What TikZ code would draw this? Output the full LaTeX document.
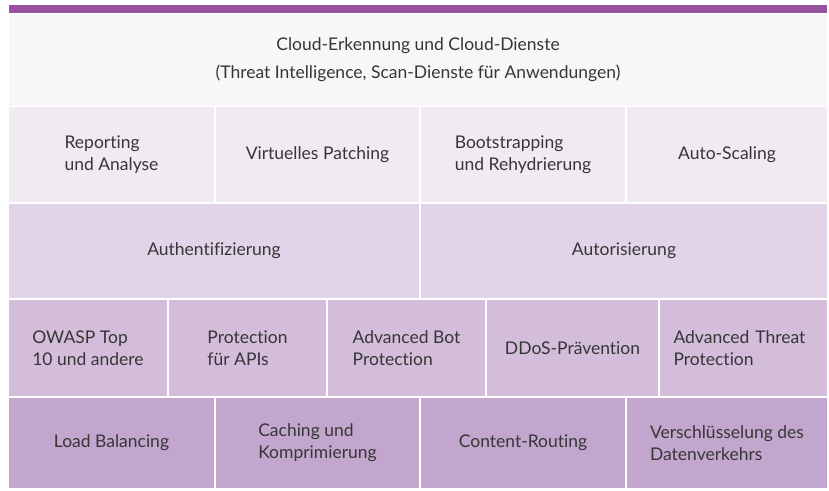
\documentclass[tikz,border=0pt]{standalone}
\usepackage{fontspec}
\setmainfont[Ligatures=NoCommon]{Lato}
\usepackage{tikz}
\definecolor{wbar}{HTML}{9852A1}
\definecolor{wrowa}{HTML}{F7F7FA}
\definecolor{wrowb}{HTML}{F1EAF3}
\definecolor{wrowc}{HTML}{E1D4E8}
\definecolor{wrowd}{HTML}{D3BDDB}
\definecolor{wrowe}{HTML}{C3A6CD}
\definecolor{wtext}{HTML}{363636}

\begin{document}
\begin{tikzpicture}[x=1pt,y=-1pt,
  cell/.style={inner sep=0pt,align=left,text=wtext,font=\fontsize{17.5}{22}\selectfont},
  rowa/.style={cell,fill=wrowa,minimum height=92pt},
  rowb/.style={cell,fill=wrowb,minimum height=95pt},
  rowc/.style={cell,fill=wrowc,minimum height=94pt},
  rowd/.style={cell,fill=wrowd,minimum height=96pt},
  rowe/.style={cell,fill=wrowe,minimum height=90pt}]
\useasboundingbox[fill=white] (0,0) rectangle (829,490);
% top bar and cloud row
\node[fill=wbar,inner sep=0pt,minimum width=818pt,minimum height=8pt] (bar) at (418,9) {};
\node[rowa,minimum width=818pt,align=center] (cloud) at (418,59.5)
  {Cloud-Erkennung und Cloud-Dienste\\[6pt](Threat Intelligence, Scan-Dienste für Anwendungen)};
% management row
\node[rowb,minimum width=205pt] (report) at (111.5,154.5) {Reporting\\und Analyse};
\node[rowb,minimum width=203pt] (vpatch) at (317.5,154.5) {Virtuelles Patching};
\node[rowb,minimum width=204pt] (boot)   at (523,154.5)   {Bootstrapping\\und Rehydrierung};
\node[rowb,minimum width=200pt] (scale)  at (727,154.5)   {Auto-Scaling};
% access row
\node[rowc,minimum width=410pt] (authn) at (214,251) {Authentifizierung};
\node[rowc,minimum width=406pt] (authz) at (624,251) {Autorisierung};
% protection row
\node[rowd,minimum width=158pt] (owasp) at (88,348)    {OWASP Top\\10 und andere};
\node[rowd,minimum width=157pt] (api)   at (247.5,348) {Protection\\für APIs};
\node[rowd,minimum width=157pt] (bot)   at (406.5,348) {Advanced Bot\\Protection};
\node[rowd,minimum width=171pt] (ddos)  at (572.5,348) {DDoS-Prävention};
\node[rowd,minimum width=167pt,text width=140pt] (atp) at (743.5,348) {Advanced Threat\\Protection};
% delivery row
\node[rowe,minimum width=205pt] (lb)    at (111.5,443) {Load Balancing};
\node[rowe,minimum width=203pt] (cache) at (317.5,443) {Caching und\\Komprimierung};
\node[rowe,minimum width=204pt] (route) at (523,443)   {Content-Routing};
\node[rowe,minimum width=200pt] (crypt) at (727,443)   {Verschlüsselung des\\Datenverkehrs};
\end{tikzpicture}
\end{document}
